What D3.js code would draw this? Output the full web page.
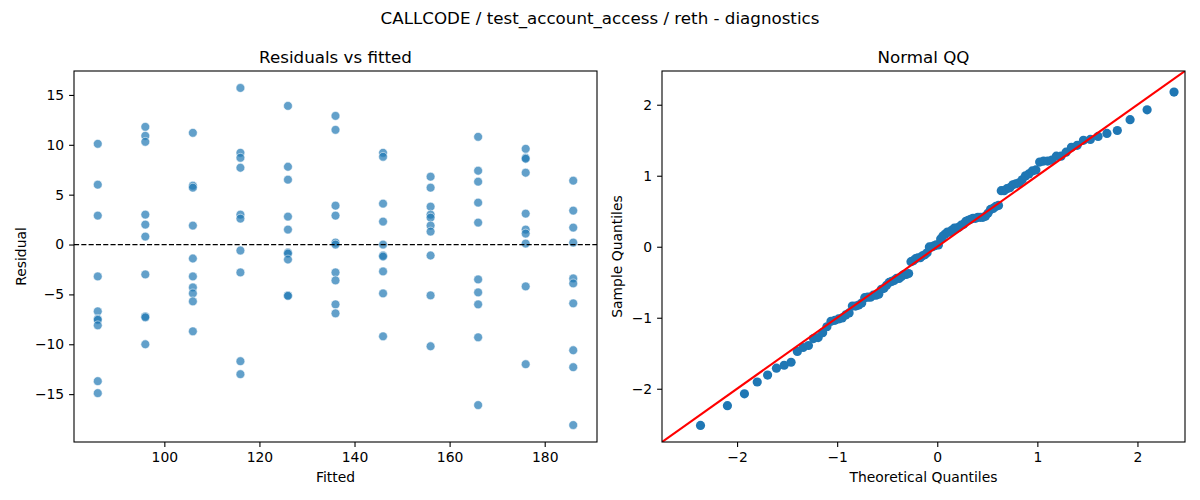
<!DOCTYPE html>
<html>
<head>
<meta charset="utf-8">
<script src="https://cdn.jsdelivr.net/npm/d3@7"></script>
<style>
  body { margin: 0; background: #fff; }
  svg { font-family: "DejaVu Sans", sans-serif; }
</style>
</head>
<body>
<svg id="chart" width="1200" height="500"></svg>
<script>
// ---- data ----
const fittedLevels = [86, 96, 106, 116, 126, 136, 146, 156, 166, 176, 186];
const resid86  = [10.1, 6.0, 2.9, -3.2, -6.7, -7.45, -7.55, -8.1, -13.7, -14.9];
const resid96  = [11.8, 10.9, 10.3, 3.0, 2.0, 0.8, -3.0, -7.2, -7.3, -10.0];
const resid106 = [11.2, 5.9, 5.7, 1.9, -1.4, -3.2, -4.3, -4.9, -5.7, -8.7];
const resid116 = [15.7, 9.2, 8.7, 7.7, 3.0, 2.6, -0.6, -2.8, -11.7, -13.0];
const resid126 = [13.9, 7.8, 6.5, 2.8, 1.5, -0.8, -0.9, -1.5, -5.1, -5.15];
const resid136 = [12.9, 11.5, 3.9, 2.9, 0.2, 0.0, -2.8, -3.6, -6.0, -6.9];
const resid146 = [9.2, 8.8, 4.1, 2.3, 0.0, -1.1, -1.2, -2.7, -4.9, -9.2];
const resid156 = [6.8, 5.7, 3.8, 3.0, 2.7, 1.9, 1.3, -1.1, -5.1, -10.2];
const resid166 = [10.8, 7.4, 6.3, 4.2, 2.2, -3.5, -4.8, -6.0, -9.3, -16.1];
const resid176 = [9.6, 8.7, 8.6, 7.2, 3.1, 1.5, 1.1, 0.1, -4.2, -12.0];
const resid186 = [6.4, 3.4, 1.7, 0.2, -3.4, -3.9, -5.9, -10.6, -12.3, -18.1];
const residGroups = [resid86, resid96, resid106, resid116, resid126, resid136,
                     resid146, resid156, resid166, resid176, resid186];

const residTicks = [-15, -10, -5, 0, 5, 10, 15];
const fittedTicks = [100, 120, 140, 160, 180];
const qqTicks = [-2, -1, 0, 1, 2];

const suptitle = "CALLCODE / test_account_access / reth - diagnostics";
const leftTitle = "Residuals vs fitted";
const rightTitle = "Normal QQ";

// ---- build points ----
const residPoints = [];
fittedLevels.forEach((f, i) => residGroups[i].forEach(r => residPoints.push({fitted: f, resid: r})));

// QQ: standardized sorted residuals vs normal quantiles at i/(n+1)
function normInv(p) {
  const a = [-3.969683028665376e+01, 2.209460984245205e+02, -2.759285104469687e+02,
             1.383577518672690e+02, -3.066479806614716e+01, 2.506628277459239e+00];
  const b = [-5.447609879822406e+01, 1.615858368580409e+02, -1.556989798598866e+02,
             6.680131188771972e+01, -1.328068155288572e+01];
  const c = [-7.784894002430293e-03, -3.223964580411365e-01, -2.400758277161838e+00,
             -2.549732539343734e+00, 4.374664141464968e+00, 2.938163982698783e+00];
  const d = [7.784695709041462e-03, 3.224671290700398e-01, 2.445134137142996e+00,
             3.754408661907416e+00];
  const pl = 0.02425, ph = 1 - pl;
  let q, r;
  if (p < pl) {
    q = Math.sqrt(-2 * Math.log(p));
    return (((((c[0]*q+c[1])*q+c[2])*q+c[3])*q+c[4])*q+c[5]) / ((((d[0]*q+d[1])*q+d[2])*q+d[3])*q+1);
  } else if (p <= ph) {
    q = p - 0.5; r = q * q;
    return (((((a[0]*r+a[1])*r+a[2])*r+a[3])*r+a[4])*r+a[5])*q / (((((b[0]*r+b[1])*r+b[2])*r+b[3])*r+b[4])*r+1);
  } else {
    q = Math.sqrt(-2 * Math.log(1 - p));
    return -(((((c[0]*q+c[1])*q+c[2])*q+c[3])*q+c[4])*q+c[5]) / ((((d[0]*q+d[1])*q+d[2])*q+d[3])*q+1);
  }
}
const allResid = residPoints.map(d => d.resid).sort(d3.ascending);
const n = allResid.length;
const mu = d3.mean(allResid);
const sd = Math.sqrt(d3.mean(allResid, v => (v - mu) * (v - mu)));
const qqPoints = allResid.map((v, i) => ({theo: normInv((i + 1) / (n + 1)), sample: (v - mu) / sd}));

// ---- drawing ----
const svg = d3.select("#chart");
const tickFont = 13.9, labelFont = 13.9, titleFont = 16.7;
const blue = "#1f77b4";

svg.append("text").attr("x", 600).attr("y", 24).attr("text-anchor", "middle")
  .attr("font-size", titleFont).text(suptitle);

function panel(x0, x1, y0, y1, xDomain, yDomain, xTicks, yTicks, title, xLabel, yLabel, yLabelX) {
  const x = d3.scaleLinear().domain(xDomain).range([x0, x1]);
  const y = d3.scaleLinear().domain(yDomain).range([y1, y0]);
  const g = svg.append("g");
  const clipId = "clip" + Math.round(x0);
  svg.append("clipPath").attr("id", clipId).append("rect")
    .attr("x", x0).attr("y", y0).attr("width", x1 - x0).attr("height", y1 - y0);
  const xa = g.append("g").attr("transform", `translate(0,${y1})`)
    .call(d3.axisBottom(x).tickValues(xTicks).tickSize(4.9).tickPadding(4.9).tickFormat(d3.format("d")));
  const ya = g.append("g").attr("transform", `translate(${x0},0)`)
    .call(d3.axisLeft(y).tickValues(yTicks).tickSize(4.9).tickPadding(4.9).tickFormat(d3.format("d")));
  [xa, ya].forEach(a => {
    a.select(".domain").remove();
    a.selectAll("line").attr("stroke", "#000").attr("stroke-width", 1.1);
    a.selectAll("text").attr("font-size", tickFont).attr("fill", "#000")
      .attr("font-family", "DejaVu Sans, sans-serif");
  });
  g.append("text").attr("x", (x0 + x1) / 2).attr("y", y0 - 8.5).attr("text-anchor", "middle")
    .attr("font-size", titleFont).text(title);
  g.append("text").attr("x", (x0 + x1) / 2).attr("y", 482).attr("text-anchor", "middle")
    .attr("font-size", labelFont).text(xLabel);
  g.append("text").attr("transform", `translate(${yLabelX},${(y0 + y1) / 2}) rotate(-90)`)
    .attr("text-anchor", "middle").attr("font-size", labelFont).text(yLabel);
  const plot = svg.append("g").attr("clip-path", `url(#${clipId})`);
  const frame = () => svg.append("rect").attr("x", x0).attr("y", y0)
    .attr("width", x1 - x0).attr("height", y1 - y0)
    .attr("fill", "none").attr("stroke", "#000").attr("stroke-width", 1.1);
  return {x, y, plot, frame};
}

// Left: residuals vs fitted
const L = panel(74, 597, 71, 442, [81, 191], [-19.8, 17.4], fittedTicks, residTicks,
  leftTitle, "Fitted", "Residual", 26);
L.plot.selectAll("circle").data(residPoints).join("circle")
  .attr("cx", d => L.x(d.fitted)).attr("cy", d => L.y(d.resid)).attr("r", 4.4)
  .attr("fill", blue).attr("fill-opacity", 0.7)
  .attr("stroke", "#fff").attr("stroke-width", 0.75).attr("stroke-opacity", 0.7);
L.plot.append("line").attr("x1", L.x(81)).attr("x2", L.x(191))
  .attr("y1", L.y(0)).attr("y2", L.y(0))
  .attr("stroke", "#000").attr("stroke-width", 1.3).attr("stroke-dasharray", "5.1,2.2");
L.frame();

// Right: normal QQ
const qqDomain = [-2.75, 2.475];
const R = panel(662, 1185, 71, 442, qqDomain, qqDomain, qqTicks, qqTicks,
  rightTitle, "Theoretical Quantiles", "Sample Quantiles", 622);
R.plot.selectAll("circle").data(qqPoints).join("circle")
  .attr("cx", d => R.x(d.theo)).attr("cy", d => R.y(d.sample)).attr("r", 4.6)
  .attr("fill", blue);
R.plot.append("line").attr("x1", R.x(qqDomain[0])).attr("y1", R.y(qqDomain[0]))
  .attr("x2", R.x(qqDomain[1])).attr("y2", R.y(qqDomain[1]))
  .attr("stroke", "#ff0000").attr("stroke-width", 2.1);
R.frame();
</script>
</body>
</html>
